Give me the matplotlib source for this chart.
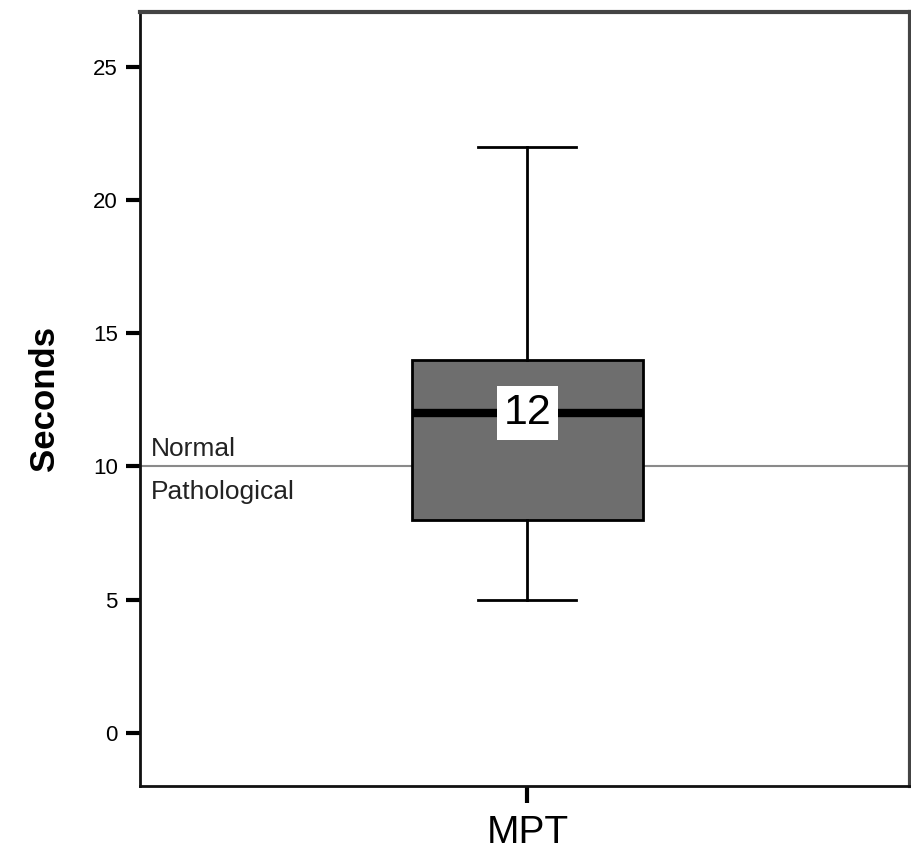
import matplotlib
matplotlib.use("Agg")
import matplotlib.pyplot as plt

plt.rcParams['font.family'] = ['Liberation Sans', 'DejaVu Sans']

# box summary (seconds)
category = "MPT"
whisker_low = 5
q1 = 8
median = 12
q3 = 14
whisker_high = 22
threshold = 10
yticks = [0, 5, 10, 15, 20, 25]

fig = plt.figure(figsize=(9.12, 8.51), dpi=100)
ax = fig.add_axes([0.1535, 0.0764, 0.8445, 0.9096])

stats = [dict(label=category, whislo=whisker_low, q1=q1, med=median,
              q3=q3, whishi=whisker_high, fliers=[])]

# reference line between normal and pathological
ax.axhline(threshold, color='#8a8a8a', lw=1.5, zorder=1)

ax.bxp(stats, positions=[1], widths=0.3, capwidths=0.127, patch_artist=True,
       showfliers=False,
       boxprops=dict(facecolor='#6e6e6e', edgecolor='black', lw=2),
       medianprops=dict(color='black', lw=6, solid_capstyle='butt'),
       whiskerprops=dict(color='black', lw=2),
       capprops=dict(color='black', lw=2), zorder=2)

ax.text(1, median, str(median), ha='center', va='center', fontsize=31, zorder=5,
        bbox=dict(boxstyle='square,pad=0.16', fc='white', ec='none'))

ax.text(0.511, threshold + 0.65, "Normal", ha='left', va='center', fontsize=19,
        color='#222222')
ax.text(0.511, threshold - 0.95, "Pathological", ha='left', va='center', fontsize=19,
        color='#222222')

ax.set_xlim(0.497, 1.497)
ax.set_ylim(-2, 27.07)
ax.set_yticks(yticks)
ax.set_yticklabels([str(t) for t in yticks], fontsize=16)
ax.set_xticks([1])
ax.set_xticklabels([category], fontsize=28)
ax.tick_params(axis='y', length=10, width=3, pad=6)
ax.tick_params(axis='x', length=12, width=3, pad=9)

ax.set_ylabel("Seconds", fontsize=25, fontweight='bold', labelpad=23)

for side in ['left', 'bottom']:
    ax.spines[side].set_linewidth(2)
    ax.spines[side].set_color('#111111')
for side in ['top', 'right']:
    ax.spines[side].set_linewidth(3)
    ax.spines[side].set_color('#444444')

fig.savefig("out.png", dpi=100)
